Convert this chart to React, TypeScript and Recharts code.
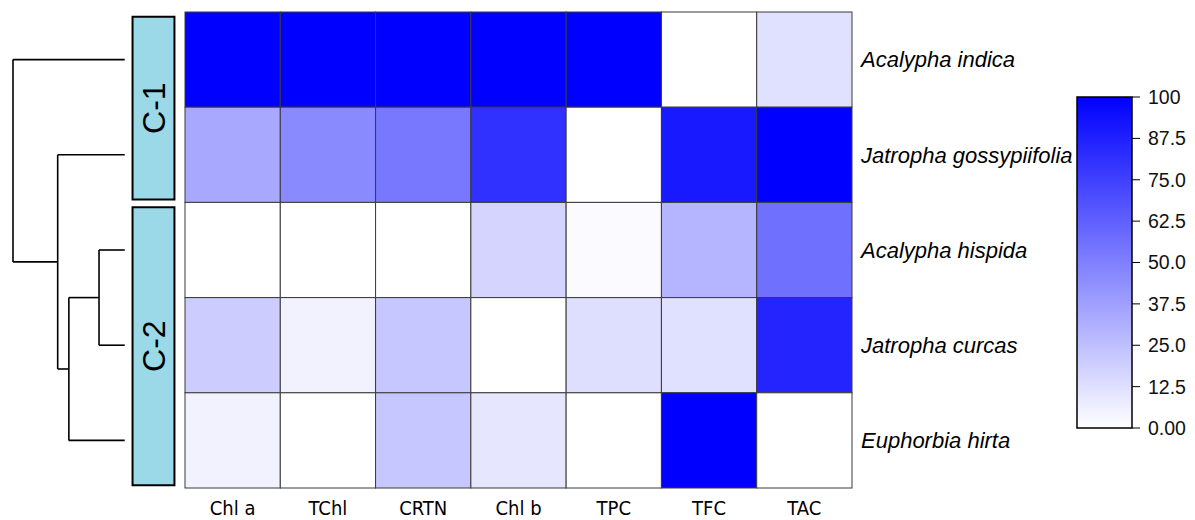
import { ScatterChart, Scatter, BarChart, Bar, XAxis, YAxis, ReferenceLine, ReferenceArea } from "recharts";

// rows top to bottom, columns left to right
const species = ["Acalypha indica", "Jatropha gossypiifolia", "Acalypha hispida", "Jatropha curcas", "Euphorbia hirta"];
const traits = ["Chl a", "TChl", "CRTN", "Chl b", "TPC", "TFC", "TAC"];

const acalyphaIndica = [100, 100, 100, 100, 100, 0, 12];
const jatrophaGossypiifolia = [34, 46, 53, 81, 0, 90, 100];
const acalyphaHispida = [0, 0, 0, 17, 2, 29, 56];
const jatrophaCurcas = [20, 5, 22, 0, 13, 12, 86];
const euphorbiaHirta = [5, 0, 22, 10, 0, 100, 0];
const rows = [acalyphaIndica, jatrophaGossypiifolia, acalyphaHispida, jatrophaCurcas, euphorbiaHirta];

// linkage: [childA, childB, height]; leaves are 0..4 (row order), new nodes 5..
const linkage = [
  [2, 3, 2.3],
  [5, 4, 5.0],
  [1, 6, 6.0],
  [0, 7, 10.0],
];
const clusters = [
  { name: "C-1", from: 0, to: 2 },
  { name: "C-2", from: 2, to: 5 },
];
const scaleTicks = [0, 12.5, 25, 37.5, 50, 62.5, 75, 87.5, 100];
const scaleMax = [{ k: "scale", v: 100 }];

const cells = rows.flatMap((vals, i) => vals.map((v, j) => ({ x: j + 0.5, y: i + 0.5, v })));

// dendrogram segments from the linkage
const nodes: { y: number; h: number }[] = species.map((_, i) => ({ y: i + 0.5, h: 0 }));
const segments: { x1: number; y1: number; x2: number; y2: number }[] = [];
linkage.forEach(([a, b, h]) => {
  const na = nodes[a];
  const nb = nodes[b];
  segments.push({ x1: na.h, y1: na.y, x2: h, y2: na.y });
  segments.push({ x1: nb.h, y1: nb.y, x2: h, y2: nb.y });
  segments.push({ x1: h, y1: na.y, x2: h, y2: nb.y });
  nodes.push({ y: (na.y + nb.y) / 2, h });
});

const H = 512;
const PLOT_W = 667;
const PLOT_H = 476;
const CW = PLOT_W / traits.length;
const CH = PLOT_H / species.length;

const color = (v: number) => {
  const c = Math.round(255 * (1 - v / 100));
  return `rgb(${c},${c},255)`;
};

const sans = "'Liberation Sans', Arial, sans-serif";

const Cell = (props: any) => {
  const { cx, cy, payload } = props;
  return (
    <rect x={cx - CW / 2} y={cy - CH / 2} width={CW} height={CH} fill={color(payload.v)} stroke="#3a3a3a" strokeWidth={1} />
  );
};

const RowTick = (props: any) => {
  const { x, y, payload } = props;
  return (
    <text x={x + 1} y={y} dy="0.35em" textAnchor="start" fontStyle="italic" fontSize={22} fontFamily={sans} fill="#000">
      {species[Math.floor(payload.value)]}
    </text>
  );
};

const ColTick = (props: any) => {
  const { x, y, payload } = props;
  return (
    <text x={x} y={y} dy="0.71em" textAnchor="middle" fontSize={20} fontFamily="'DejaVu Sans Condensed', 'Liberation Sans Narrow', 'Liberation Sans', sans-serif" fill="#000">
      {traits[Math.floor(payload.value)]}
    </text>
  );
};

const fmtScale = (v: number) => (v === 0 ? "0.00" : v === 100 ? "100" : v.toFixed(1));

export default function App() {
  return (
    <div style={{ position: "relative", width: 1187, height: H }}>
      {/* dendrogram + cluster boxes */}
      <div style={{ position: "absolute", left: 0, top: 0 }}>
        <ScatterChart width={180} height={H} margin={{ top: 4, bottom: 32, left: 5, right: 13 }}>
          <XAxis type="number" dataKey="x" domain={[-4.5, 10]} reversed hide allowDataOverflow />
          <YAxis type="number" dataKey="y" domain={[0, 5]} reversed hide allowDataOverflow width={0} />
          {segments.map((s, k) => (
            <ReferenceLine
              key={`seg-${k}`}
              segment={[{ x: s.x1, y: s.y1 }, { x: s.x2, y: s.y2 }]}
              stroke="#000"
              strokeWidth={1.6}
              ifOverflow="visible"
            />
          ))}
          {clusters.map((c) => (
            <ReferenceArea
              key={c.name}
              x1={-0.7}
              x2={-4.45}
              y1={c.from + 0.05}
              y2={c.to - 0.03}
              fill="#9cd9e8"
              fillOpacity={1}
              stroke="#000"
              strokeWidth={2}
              ifOverflow="visible"
              label={{ value: c.name, angle: -90, position: "center", fontSize: 32, fill: "#000", fontFamily: sans }}
            />
          ))}
        </ScatterChart>
      </div>

      {/* heatmap */}
      <div style={{ position: "absolute", left: 0, top: 0 }}>
        <ScatterChart width={1100} height={H} margin={{ top: 4, bottom: 0, left: 177, right: 56 }}>
          <XAxis
            type="number"
            dataKey="x"
            domain={[0, traits.length]}
            ticks={traits.map((_, j) => j + 0.5)}
            axisLine={false}
            tickLine={false}
            tickMargin={7}
            height={32}
            tick={<ColTick />}
            interval={0}
          />
          <YAxis
            type="number"
            dataKey="y"
            orientation="right"
            domain={[0, species.length]}
            reversed
            ticks={species.map((_, i) => i + 0.5)}
            axisLine={false}
            tickLine={false}
            width={200}
            tick={<RowTick />}
            interval={0}
          />
          <Scatter data={cells} shape={<Cell />} isAnimationActive={false} />
        </ScatterChart>
      </div>

      {/* colour scale */}
      <div style={{ position: "absolute", left: 1040, top: 0 }}>
        <BarChart width={147} height={H} data={scaleMax} barCategoryGap={0} margin={{ top: 89, bottom: 92, left: 29, right: 0 }}>
          <defs>
            <linearGradient id="cbar" x1="0" y1="1" x2="0" y2="0">
              <stop offset="0%" stopColor="#ffffff" />
              <stop offset="100%" stopColor="#0000ff" />
            </linearGradient>
          </defs>
          <XAxis dataKey="k" hide />
          <YAxis
            type="number"
            orientation="right"
            domain={[0, 100]}
            ticks={scaleTicks}
            tickFormatter={fmtScale}
            axisLine={false}
            tickSize={8}
            tickMargin={8}
            width={63}
            interval={0}
            tickLine={{ stroke: "#000" }}
            tick={{ fontSize: 19.5, fill: "#111", fontFamily: sans, textAnchor: "start" }}
          />
          <Bar dataKey="v" fill="url(#cbar)" stroke="#000" strokeWidth={1.5} isAnimationActive={false} />
        </BarChart>
      </div>
    </div>
  );
}
